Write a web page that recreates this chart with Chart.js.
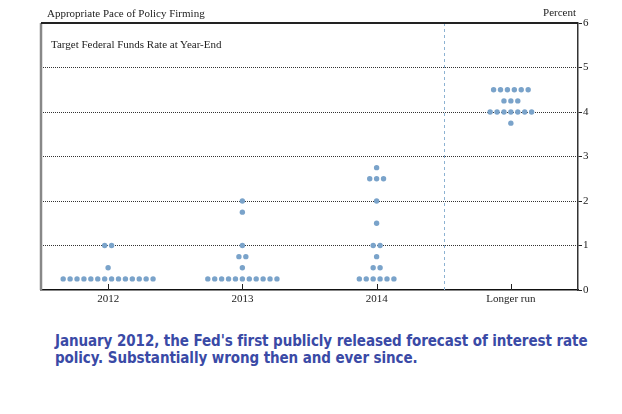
<!DOCTYPE html>
<html>
<head>
<meta charset="utf-8">
<title>Target Federal Funds Rate at Year-End</title>
<script src="https://cdn.jsdelivr.net/npm/chart.js@4.4.1/dist/chart.umd.min.js"></script>
<style>
  body { margin: 0; background: #fff; }
  #wrap { position: relative; width: 622px; height: 414px; overflow: hidden; }
  #dots { position: absolute; left: 0; top: 0; }
  .lbl {
    position: absolute;
    font-family: "Liberation Serif", "Times New Roman", serif;
    font-size: 11px;
    line-height: 12px;
    color: #222;
    white-space: nowrap;
  }
  #note {
    position: absolute;
    left: 55px;
    top: 333px;
    font-family: "DejaVu Sans Condensed", "DejaVu Sans", Verdana, sans-serif;
    font-weight: bold;
    font-size: 15px;
    line-height: 17px;
    color: #3a4aa6;
    white-space: nowrap;
  }
</style>
</head>
<body>
<div id="wrap">
  <canvas id="dots" width="622" height="320"></canvas>
  <div class="lbl" style="left:47px;top:7px;">Appropriate Pace of Policy Firming</div>
  <div class="lbl" style="right:46px;top:6px;">Percent</div>
  <div class="lbl" style="left:51px;top:38px;">Target Federal Funds Rate at Year-End</div>
  <div id="note"><span id="line1">January 2012, the Fed's first publicly released forecast of interest rate</span><br><span id="line2">policy. Substantially wrong then and ever since.</span></div>
</div>
<script>
// one dot per FOMC participant: rate level and how many participants sit on it
const categories = ['2012', '2013', '2014', 'Longer run'];

const rates2012 = [0.25, 0.5, 1.0];
const counts2012 = [14, 1, 2];

const rates2013 = [0.25, 0.5, 0.75, 1.0, 1.75, 2.0];
const counts2013 = [11, 1, 2, 1, 1, 1];

const rates2014 = [0.25, 0.5, 0.75, 1.0, 1.5, 2.0, 2.5, 2.75];
const counts2014 = [6, 2, 1, 2, 1, 1, 3, 1];

const ratesLonger = [3.75, 4.0, 4.25, 4.5];
const countsLonger = [1, 7, 3, 6];

const yTicks = [0, 1, 2, 3, 4, 5, 6];

const dotColor = 'rgb(122,163,202)';
const dotGap = 0.0515; // horizontal spread between dots on the same rate, in category units
const axisFont = { family: '"Liberation Serif", "Times New Roman", serif', size: 11 };

// squeeze the caption so its first line spans the same width as in the original
(function fitNote() {
  const l1 = document.getElementById('line1');
  const note = document.getElementById('note');
  const target = 532;
  const w = l1.getBoundingClientRect().width;
  const n = l1.textContent.length;
  note.style.letterSpacing = ((target - w) / n).toFixed(3) + 'px';
})();

function swarm(catIndex, rates, counts) {
  const pts = [];
  rates.forEach((r, k) => {
    const n = counts[k];
    for (let i = 0; i < n; i++) {
      pts.push({ x: catIndex + (i - (n - 1) / 2) * dotGap, y: r });
    }
  });
  return pts;
}

const points = [].concat(
  swarm(0, rates2012, counts2012),
  swarm(1, rates2013, counts2013),
  swarm(2, rates2014, counts2014),
  swarm(3, ratesLonger, countsLonger)
);

// top / left frame, the divider before "Longer run" and the small inner x ticks
const framePlugin = {
  id: 'frame',
  beforeDatasetsDraw(chart) {
    const { ctx, chartArea: a, scales: { x } } = chart;
    ctx.save();

    const xd = Math.round(x.getPixelForValue(2.5)) + 0.5;
    ctx.strokeStyle = 'rgb(140,178,210)';
    ctx.lineWidth = 1;
    ctx.setLineDash([3, 3]);
    ctx.beginPath();
    ctx.moveTo(xd, a.top);
    ctx.lineTo(xd, a.bottom);
    ctx.stroke();
    ctx.setLineDash([]);

    ctx.strokeStyle = '#222';
    ctx.lineWidth = 1;
    categories.forEach((c, i) => {
      const px = Math.round(x.getPixelForValue(i)) + 0.5;
      ctx.beginPath();
      ctx.moveTo(px, a.bottom);
      ctx.lineTo(px, a.bottom - 6);
      ctx.stroke();
    });

    ctx.strokeStyle = '#888';
    ctx.lineWidth = 2.5;
    ctx.beginPath();
    ctx.moveTo(a.left, a.top);
    ctx.lineTo(a.left, a.bottom);
    ctx.stroke();

    ctx.strokeStyle = '#222';
    ctx.lineWidth = 2;
    ctx.beginPath();
    ctx.moveTo(a.left, a.top);
    ctx.lineTo(a.right, a.top);
    ctx.stroke();
    ctx.restore();
  }
};

new Chart(document.getElementById('dots'), {
  type: 'scatter',
  data: {
    datasets: [{
      data: points,
      pointRadius: 2.7,
      pointHoverRadius: 2.7,
      backgroundColor: dotColor,
      borderWidth: 0
    }]
  },
  options: {
    responsive: false,
    animation: false,
    layout: { padding: { left: 41, top: 23, right: 0, bottom: 0 } },
    plugins: { legend: { display: false }, tooltip: { enabled: false } },
    scales: {
      x: {
        type: 'linear',
        min: -0.5,
        max: 3.5,
        afterBuildTicks: s => { s.ticks = categories.map((c, i) => ({ value: i })); },
        afterFit: s => { s.height = 30; },
        ticks: {
          callback: v => categories[v],
          font: axisFont,
          color: '#222',
          padding: 3,
          autoSkip: false,
          maxRotation: 0
        },
        grid: { display: false, drawTicks: false },
        border: { display: true, color: '#111', width: 1.5 }
      },
      y: {
        position: 'right',
        min: 0,
        max: 6,
        afterBuildTicks: s => { s.ticks = yTicks.map(v => ({ value: v })); },
        afterFit: s => { s.width = 44; },
        ticks: { font: axisFont, color: '#222', padding: 1 },
        grid: {
          color: c => (c.tick && (c.tick.value === 0 || c.tick.value === 6)) ? 'rgba(0,0,0,0)' : '#333',
          lineWidth: 1,
          tickColor: '#222',
          tickLength: 4,
          tickBorderDash: []
        },
        border: { color: '#333', width: 1.5, dash: [1, 1] }
      }
    }
  },
  plugins: [framePlugin]
});
</script>
</body>
</html>
